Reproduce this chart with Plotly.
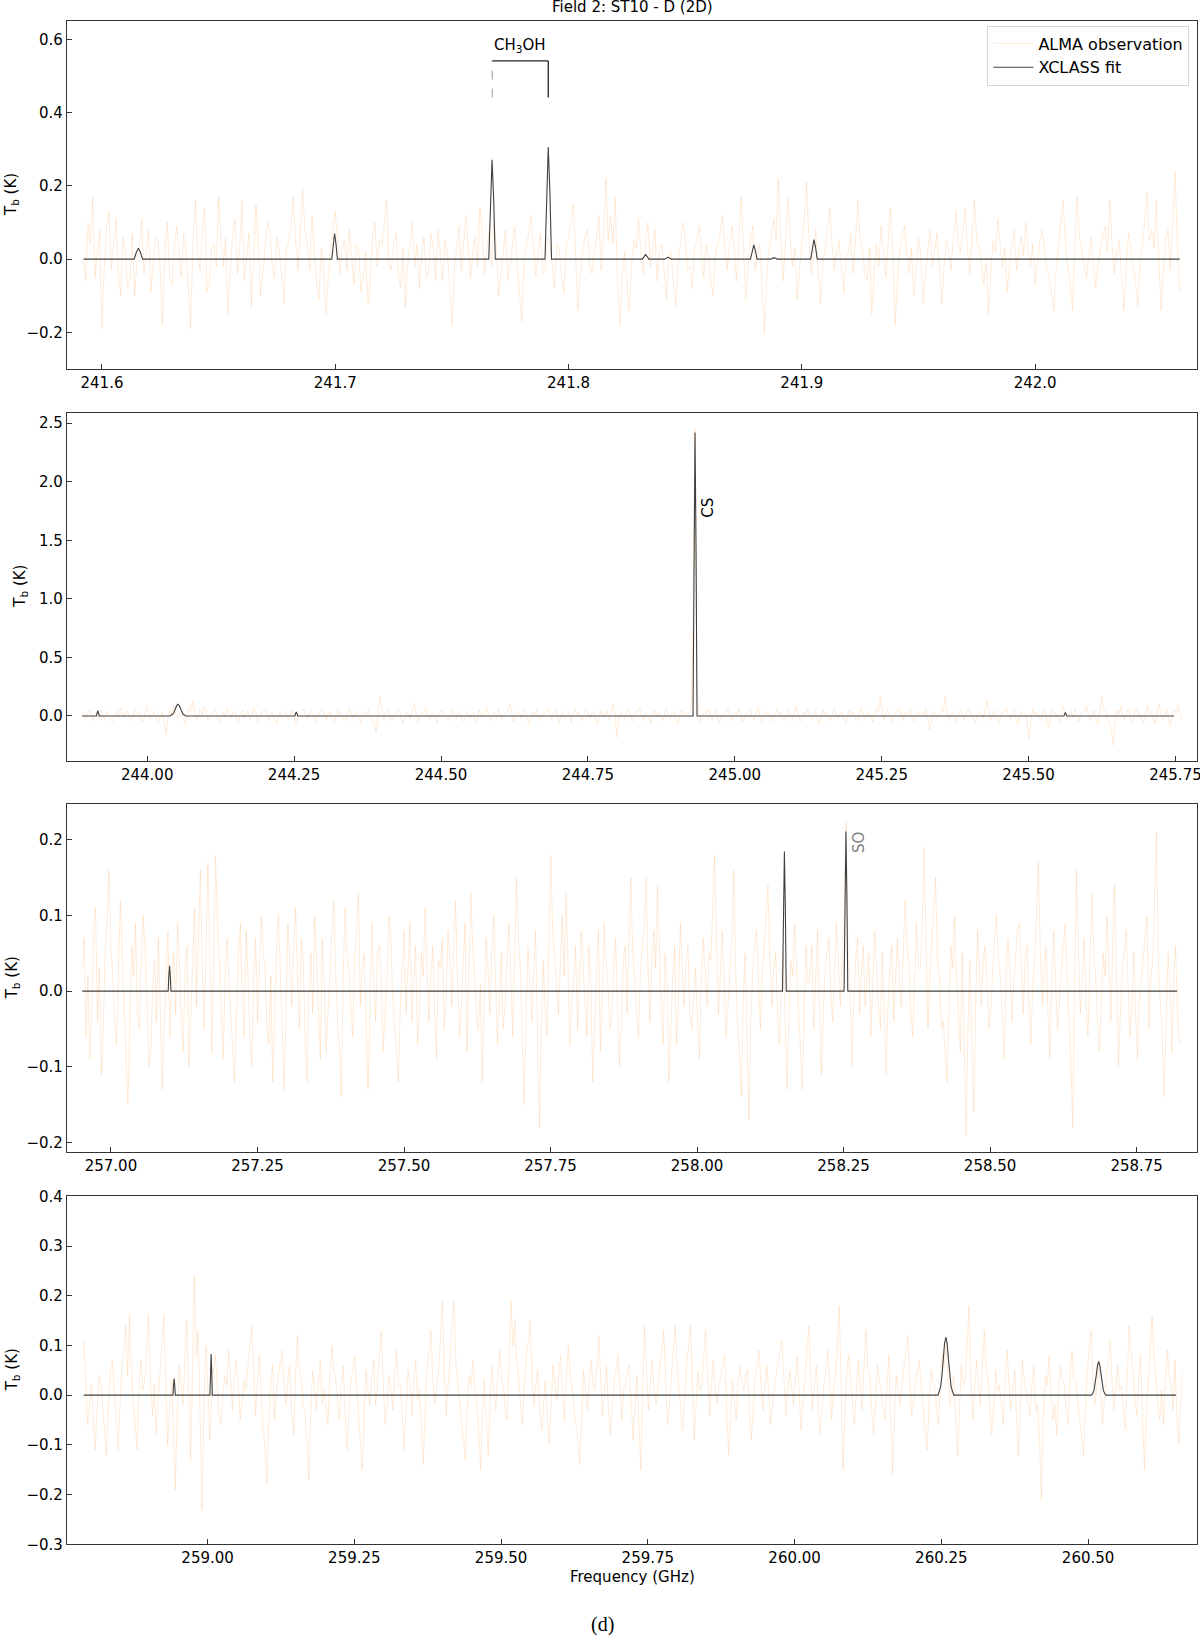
"""XCLASS fit vs ALMA spectra, Field 2: ST10 - D (2D), four spectral windows."""

import plotly.graph_objects as go

# ---- observed spectra: channel start (GHz), channel width (GHz), Tb (K) ----
OBS1_START, OBS1_STEP = 241.592, 0.001
OBS1 = [
    -0.01, -0.06, 0.10, 0.04, 0.17, -0.05, 0.02, 0.08, -0.19, -0.02, 0.09, 0.13, -0.03, 0.05, 0.11, -0.04, -0.10, 0.06, 0.02, -0.08,
    -0.06, 0.07, -0.10, -0.01, 0.03, 0.11, -0.04, 0.02, 0.08, -0.09, -0.02, 0.06, 0.05, -0.03, -0.18, 0.04, 0.10, -0.05, -0.07, 0.03,
    0.09, 0.01, -0.05, 0.07, 0.02, -0.08, -0.19, 0.05, 0.16, 0.02, -0.03, 0.08, 0.14, -0.09, -0.06, 0.03, 0.04, -0.02, 0.17, 0.05,
    -0.02, 0.06, -0.15, -0.04, 0.06, 0.11, -0.04, 0.03, 0.16, -0.06, 0.01, 0.07, -0.13, 0.02, 0.15, 0.04, -0.10, -0.03, 0.03, 0.10,
    0.08, -0.02, -0.05, 0.06, 0.02, -0.04, -0.12, 0.03, 0.05, 0.09, 0.17, 0.05, -0.03, 0.10, 0.19, 0.08, 0.04, -0.03, 0.12, 0.02,
    -0.06, -0.11, 0.03, -0.02, -0.15, -0.05, 0.02, 0.09, 0.13, 0.04, -0.04, 0.03, 0.05, -0.03, 0.08, 0.01, -0.07, 0.04, 0.02, -0.09,
    -0.05, 0.02, -0.12, -0.06, 0.06, 0.10, -0.02, 0.05, 0.04, 0.09, 0.16, -0.01, -0.03, 0.04, 0.07, -0.04, -0.08, 0.03, -0.13, -0.02,
    0.05, 0.10, -0.02, 0.04, -0.08, 0.01, 0.06, -0.05, -0.04, 0.07, 0.03, -0.06, 0.08, 0.02, -0.06, 0.05, 0.02, -0.09, -0.18, -0.03,
    0.04, 0.09, -0.03, 0.05, 0.12, 0.03, -0.05, 0.02, 0.06, -0.02, 0.14, 0.07, -0.04, 0.03, 0.08, -0.02, 0.10, 0.04, -0.10, -0.04,
    0.03, 0.08, -0.06, -0.01, 0.05, 0.09, -0.02, -0.09, -0.17, 0.01, 0.04, 0.07, 0.12, 0.03, -0.05, 0.02, 0.07, -0.04, -0.03, 0.06,
    0.05, -0.02, -0.08, 0.04, 0.03, -0.05, -0.09, 0.03, 0.06, 0.10, 0.15, 0.02, -0.14, -0.05, 0.02, 0.06, 0.08, -0.01, -0.04, 0.02,
    0.06, 0.12, -0.03, 0.07, 0.22, 0.05, 0.12, 0.04, 0.17, -0.06, -0.18, -0.04, 0.02, -0.06, -0.14, -0.02, 0.05, 0.03, 0.11, 0.02,
    -0.04, 0.04, 0.10, -0.02, 0.03, 0.08, -0.06, 0.02, 0.04, -0.04, -0.11, 0.01, 0.02, -0.07, -0.13, -0.01, 0.05, 0.10, 0.06, -0.03,
    -0.02, -0.08, 0.03, 0.05, 0.09, 0.01, -0.05, 0.04, 0.01, -0.06, -0.10, 0.02, 0.04, 0.07, 0.12, 0.03, -0.03, 0.04, 0.09, 0.02,
    -0.06, 0.05, 0.17, 0.03, -0.11, -0.02, 0.06, 0.09, -0.03, 0.01, 0.04, -0.08, -0.20, -0.05, 0.03, 0.07, 0.11, 0.05, 0.22, 0.06,
    -0.06, 0.04, 0.17, 0.06, -0.02, 0.03, -0.11, -0.03, 0.05, 0.10, 0.21, 0.07, -0.04, 0.02, 0.08, -0.03, -0.12, -0.02, 0.03, 0.09,
    0.14, 0.04, -0.03, 0.02, 0.05, -0.03, -0.09, 0.01, 0.02, 0.07, -0.04, 0.05, 0.16, 0.06, 0.02, -0.04, -0.06, 0.03, -0.15, -0.04,
    0.04, -0.02, 0.09, 0.02, -0.05, 0.05, 0.14, 0.01, -0.18, -0.06, 0.03, 0.06, 0.09, 0.02, -0.04, 0.03, -0.10, -0.03, 0.06, 0.01,
    -0.12, -0.04, 0.03, 0.08, -0.02, 0.02, 0.07, -0.03, -0.12, -0.02, 0.05, 0.02, -0.03, 0.06, 0.13, 0.04, 0.02, 0.07, 0.14, 0.03,
    -0.04, 0.06, 0.16, 0.05, 0.03, -0.02, -0.07, -0.01, -0.15, -0.04, 0.05, 0.02, 0.11, 0.04, -0.02, 0.03, -0.09, -0.02, 0.04, 0.08,
    -0.03, 0.02, 0.06, 0.01, 0.10, 0.03, -0.02, 0.04, -0.07, -0.01, 0.05, 0.08, 0.02, -0.03, -0.05, -0.09, -0.14, -0.03, 0.04, 0.09,
    0.16, 0.05, -0.03, -0.06, -0.14, 0.03, 0.17, 0.06, 0.02, -0.02, -0.05, 0.01, 0.06, -0.02, -0.08, -0.01, 0.03, 0.06, 0.09, 0.02,
    0.16, 0.04, -0.04, 0.02, 0.05, -0.06, -0.14, -0.02, 0.07, 0.03, -0.02, -0.06, -0.13, -0.01, 0.04, 0.10, 0.18, 0.05, 0.08, 0.03,
    0.16, 0.02, -0.14, -0.03, 0.05, 0.08, -0.03, 0.10, 0.24, 0.04, -0.09,
]

OBS2_START, OBS2_STEP = 243.889, 0.00325
OBS2 = [
    0.04, 0.01, -0.02, 0.03, 0.05, -0.01, -0.04, 0.02, 0.03, -0.02, 0.06, 0.01, -0.03, 0.04, 0.02, -0.03, -0.05, 0.01, 0.04, -0.02,
    0.07, 0.02, -0.01, 0.04, 0.03, -0.02, -0.04, 0.01, 0.06, 0.03, 0.02, -0.03, -0.05, 0.02, 0.08, 0.03, -0.02, 0.01, 0.04, -0.03,
    -0.06, -0.01, 0.03, -0.05, -0.15, -0.03, 0.05, 0.02, 0.09, 0.03, -0.02, 0.01, 0.04, -0.02, -0.07, 0.01, 0.06, 0.04, 0.13, 0.02,
    -0.03, 0.02, 0.05, 0.01, 0.08, 0.02, -0.04, -0.01, 0.02, 0.04, 0.06, -0.02, -0.05, 0.01, 0.03, -0.01, 0.07, 0.02, -0.02, 0.03,
    0.04, -0.01, -0.06, 0.02, 0.05, -0.02, 0.02, 0.04, -0.03, 0.01, 0.07, 0.02, -0.05, -0.02, 0.03, 0.05, 0.06, -0.01, -0.04, 0.02,
    0.02, -0.03, -0.07, 0.01, 0.04, -0.02, 0.01, 0.03, -0.03, 0.02, 0.05, -0.01, -0.08, -0.02, 0.03, 0.04, 0.06, 0.01, -0.02, 0.03,
    0.04, 0.01, -0.05, -0.01, 0.02, 0.04, 0.06, 0.01, -0.03, 0.02, 0.03, -0.02, -0.06, 0.01, 0.05, 0.02, 0.01, -0.03, -0.04, 0.02,
    0.06, 0.02, -0.02, 0.03, 0.04, -0.02, -0.07, 0.01, 0.03, 0.02, 0.05, -0.01, -0.04, -0.06, -0.14, 0.04, 0.17, 0.05, -0.03, 0.02,
    0.05, 0.01, -0.04, -0.01, 0.02, 0.04, 0.06, 0.01, -0.06, -0.02, 0.03, 0.01, -0.02, 0.04, 0.11, 0.02, -0.05, -0.01, 0.04, 0.02,
    0.07, 0.01, -0.03, 0.02, 0.02, -0.02, -0.06, 0.01, 0.05, 0.03, 0.01, -0.02, -0.04, 0.02, 0.06, 0.01, -0.02, 0.04, 0.03, -0.03,
    -0.05, 0.01, 0.04, -0.02, 0.02, 0.03, -0.06, -0.01, 0.05, 0.02, -0.01, 0.03, 0.07, 0.01, -0.04, 0.02, 0.03, -0.02, 0.06, 0.02,
    -0.03, 0.01, 0.02, 0.05, 0.10, 0.03, -0.05, 0.01, 0.04, 0.02, -0.02, 0.03, 0.06, -0.01, -0.07, -0.02, 0.03, 0.01, 0.05, -0.02,
    -0.04, 0.01, 0.02, 0.04, 0.07, 0.01, -0.03, 0.02, 0.05, -0.01, -0.06, 0.02, 0.04, -0.02, 0.01, 0.03, -0.05, 0.01, 0.06, 0.02,
    0.03, -0.01, -0.04, 0.02, 0.06, 0.01, -0.02, 0.03, 0.04, -0.03, -0.07, 0.01, 0.05, -0.01, 0.02, 0.04, -0.03, 0.02, 0.10, 0.03,
    -0.18, -0.04, 0.04, 0.01, -0.02, 0.03, 0.06, 0.02, -0.05, -0.01, 0.03, 0.04, 0.07, 0.01, -0.04, 0.02, 0.02, -0.02, -0.06, 0.01,
    0.05, -0.01, 0.03, 0.02, -0.04, 0.01, 0.06, 0.02, -0.02, 0.03, 0.04, -0.02, -0.07, 0.01, 0.05, 0.02, 0.01, 0.03, 0.02, 0.04,
    0.90, 2.45, 0.30, 0.02, -0.05, 0.01, 0.04, 0.02, 0.06, 0.01, -0.03, 0.02, 0.05, -0.02, -0.06, 0.01, 0.02, 0.04, 0.07, 0.02,
    -0.04, 0.01, 0.03, 0.02, 0.06, 0.01, -0.05, -0.01, 0.02, 0.03, 0.05, -0.01, -0.03, 0.03, 0.07, 0.01, -0.06, -0.02, 0.04, 0.02,
    0.02, -0.02, -0.05, 0.02, 0.06, 0.01, 0.03, -0.02, -0.04, 0.02, 0.05, 0.01, -0.02, 0.03, 0.08, 0.02, -0.05, -0.01, 0.03, 0.01,
    0.06, 0.01, -0.03, 0.02, 0.04, -0.02, -0.07, -0.01, 0.05, 0.02, 0.02, -0.02, -0.04, 0.02, 0.06, 0.01, -0.02, 0.02, 0.03, -0.03,
    -0.06, 0.01, 0.05, 0.02, 0.03, -0.02, -0.04, 0.03, 0.07, 0.01, -0.02, 0.02, 0.04, -0.01, -0.05, 0.02, 0.06, 0.04, 0.16, 0.03,
    -0.03, 0.02, 0.05, -0.01, -0.06, 0.01, 0.03, 0.04, 0.07, 0.01, -0.04, 0.02, 0.02, 0.03, 0.06, -0.02, -0.05, 0.01, 0.04, 0.02,
    0.03, 0.01, 0.06, -0.03, -0.12, -0.02, 0.04, 0.01, -0.02, 0.02, 0.05, 0.04, 0.17, 0.03, -0.04, 0.01, 0.03, -0.02, -0.06, 0.01,
    0.05, 0.02, -0.03, 0.01, 0.06, 0.02, 0.02, -0.02, -0.05, 0.01, 0.04, 0.02, -0.02, 0.05, 0.14, 0.03, -0.04, 0.01, 0.05, -0.02,
    -0.06, -0.01, 0.03, 0.04, 0.07, 0.01, -0.03, 0.02, 0.05, -0.02, -0.07, 0.01, 0.04, -0.01, 0.02, -0.06, -0.19, -0.03, 0.06, 0.02,
    0.03, 0.01, -0.04, 0.02, 0.05, -0.03, -0.10, -0.02, 0.06, 0.02, 0.02, -0.02, -0.05, 0.03, 0.08, 0.01, -0.03, 0.02, 0.04, -0.02,
    0.06, 0.01, -0.05, 0.02, 0.03, 0.04, 0.08, 0.01, -0.04, 0.02, 0.05, -0.02, -0.07, 0.05, 0.17, 0.06, 0.04, -0.02, -0.06, -0.12,
    -0.25, -0.04, 0.05, 0.02, 0.08, 0.01, -0.03, 0.03, 0.06, -0.02, -0.05, 0.02, 0.07, 0.01, 0.02, -0.03, -0.06, 0.03, 0.09, 0.02,
    0.04, -0.02, -0.07, 0.03, 0.10, 0.02, -0.03, 0.01, 0.06, -0.03, -0.08, 0.01, 0.05, 0.03, 0.09, 0.02, -0.04,
]

OBS3_START, OBS3_STEP = 256.951, 0.00325
OBS3 = [
    0.03, 0.07, -0.06, 0.02, -0.09, -0.03, 0.08, 0.11, -0.04, 0.03, -0.11, -0.05, 0.05, 0.09, 0.16, 0.06, 0.02, -0.04, -0.07, 0.04,
    0.12, 0.05, -0.03, -0.09, -0.15, -0.02, 0.06, 0.02, 0.09, -0.03, -0.05, 0.04, 0.10, 0.06, -0.02, -0.10, -0.08, 0.01, 0.04, -0.04,
    0.07, -0.02, -0.13, -0.05, 0.02, 0.08, -0.06, 0.01, 0.05, -0.03, 0.09, 0.04, -0.04, -0.08, 0.03, 0.06, -0.10, -0.02, 0.06, 0.11,
    -0.02, 0.08, 0.16, 0.03, -0.05, 0.06, 0.17, 0.04, -0.08, 0.05, 0.18, 0.09, 0.04, -0.03, -0.09, 0.02, 0.07, 0.01, -0.03, -0.07,
    -0.12, -0.03, 0.05, 0.09, -0.01, -0.06, 0.08, 0.02, -0.06, -0.10, 0.02, 0.07, -0.04, 0.03, 0.10, 0.05, 0.03, -0.05, -0.07, 0.02,
    -0.12, -0.04, 0.06, 0.10, 0.01, -0.05, -0.13, -0.02, 0.09, 0.03, -0.02, 0.06, 0.11, 0.02, -0.05, 0.07, 0.04, -0.06, -0.12, -0.01,
    0.05, -0.03, 0.10, 0.04, -0.03, -0.09, 0.07, 0.01, -0.08, -0.02, 0.02, 0.07, 0.12, 0.03, -0.04, -0.07, -0.14, 0.02, 0.11, 0.05,
    0.03, -0.02, -0.06, 0.04, 0.08, 0.13, -0.02, 0.03, 0.05, -0.06, -0.13, -0.04, 0.09, 0.02, -0.04, 0.05, 0.06, 0.01, -0.08, -0.03,
    0.02, 0.10, 0.07, -0.01, -0.05, -0.08, -0.12, -0.02, 0.04, 0.08, -0.03, 0.04, 0.09, -0.04, 0.01, 0.06, -0.07, -0.03, 0.05, 0.02,
    0.11, 0.03, -0.04, 0.02, 0.06, -0.03, -0.09, 0.04, 0.03, 0.07, -0.05, -0.01, 0.08, 0.04, -0.02, 0.06, 0.12, 0.02, -0.06, -0.02,
    0.04, 0.09, -0.08, 0.05, 0.13, 0.06, 0.02, -0.04, -0.05, 0.01, -0.12, -0.02, 0.07, 0.03, -0.03, 0.05, 0.10, 0.01, -0.07, -0.02,
    0.05, -0.05, -0.02, 0.04, 0.09, 0.02, -0.06, 0.05, 0.15, 0.07, 0.03, -0.07, -0.15, -0.03, 0.06, 0.01, -0.04, 0.03, 0.08, -0.06,
    -0.18, -0.05, 0.04, -0.02, -0.06, 0.07, 0.18, 0.08, 0.05, 0.01, -0.03, 0.04, 0.10, 0.02, 0.13, 0.04, -0.07, -0.02, 0.02, 0.06,
    -0.05, 0.02, 0.08, 0.03, -0.02, -0.06, 0.06, 0.01, -0.12, -0.04, 0.03, 0.08, -0.08, -0.01, 0.09, 0.04, 0.01, -0.05, -0.04, 0.03,
    0.07, -0.02, -0.10, -0.04, 0.04, 0.06, -0.03, 0.08, 0.15, 0.05, 0.02, -0.03, -0.06, 0.02, 0.05, 0.09, 0.15, 0.03, -0.04, 0.04,
    0.08, 0.03, 0.14, 0.05, -0.03, -0.07, 0.05, 0.01, -0.12, -0.05, 0.02, 0.06, -0.07, -0.02, 0.09, 0.03, -0.02, 0.04, 0.06, -0.03,
    -0.05, -0.01, 0.03, -0.04, -0.09, 0.02, 0.07, 0.03, -0.02, 0.05, 0.04, 0.11, 0.18, 0.06, -0.03, 0.02, 0.08, 0.01, -0.06, -0.02,
    0.02, 0.07, 0.16, 0.03, -0.04, -0.08, -0.14, -0.02, 0.05, -0.06, -0.17, -0.04, 0.03, 0.06, 0.08, 0.01, -0.05, 0.02, 0.06, 0.10,
    0.14, 0.04, -0.02, 0.03, 0.05, -0.03, -0.07, 0.01, 0.05, -0.04, -0.13, -0.03, 0.04, 0.02, 0.09, 0.03, -0.03, -0.08, -0.13, -0.02,
    0.06, 0.01, 0.02, 0.06, -0.05, 0.01, 0.08, -0.02, -0.11, -0.03, 0.03, 0.05, 0.07, -0.01, -0.04, 0.03, 0.09, 0.04, -0.02, 0.05,
    0.10, 0.225, 0.05, 0.03, -0.10, -0.02, 0.04, 0.07, -0.03, 0.02, 0.06, -0.02, 0.01, 0.05, -0.06, 0.02, 0.08, 0.03, -0.02, -0.05,
    0.05, -0.03, -0.11, -0.02, 0.03, 0.06, -0.04, 0.02, 0.07, 0.01, -0.02, 0.05, 0.12, 0.06, 0.04, -0.03, -0.06, 0.02, 0.09, 0.03,
    0.03, 0.09, 0.19, 0.05, -0.05, 0.02, 0.07, 0.11, 0.15, 0.04, 0.02, -0.05, -0.04, -0.08, -0.12, -0.02, 0.06, 0.03, 0.10, 0.02,
    -0.03, -0.08, 0.05, -0.06, -0.19, -0.05, 0.04, -0.07, -0.16, -0.02, 0.08, 0.03, -0.02, 0.04, 0.06, 0.01, -0.05, -0.02, 0.03, 0.07,
    0.10, 0.04, 0.02, -0.04, -0.09, 0.02, 0.07, 0.03, -0.04, 0.01, 0.05, 0.08, 0.09, 0.02, -0.03, 0.04, 0.06, -0.02, -0.07, 0.01,
    0.04, 0.10, 0.17, 0.05, -0.02, 0.03, 0.06, -0.03, -0.09, 0.02, 0.08, 0.01, -0.05, -0.01, 0.03, 0.06, 0.09, 0.02, -0.04, -0.09,
    -0.18, 0.02, 0.16, 0.05, -0.03, 0.02, 0.07, -0.02, -0.06, 0.04, 0.13, 0.05, 0.02, -0.04, -0.08, -0.01, 0.05, 0.02, 0.10, 0.03,
    -0.04, 0.06, 0.14, 0.02, -0.10, -0.03, 0.03, 0.05, 0.08, 0.01, -0.06, -0.02, 0.05, -0.03, -0.09, -0.01, 0.02, 0.04, 0.07, 0.10,
    -0.05, 0.02, 0.04, 0.12, 0.21, 0.03, -0.02, -0.06, -0.14, -0.03, 0.05, 0.01, -0.08, 0.02, 0.06, -0.03, -0.07,
]

OBS4_START, OBS4_STEP = 258.789, 0.00325
OBS4 = [
    0.11, 0.03, -0.06, -0.02, 0.02, -0.05, -0.11, -0.03, 0.04, 0.02, -0.03, -0.07, -0.12, -0.02, 0.05, 0.07, 0.01, -0.04, -0.11, -0.02,
    0.06, 0.09, 0.14, 0.04, 0.16, 0.05, -0.02, -0.06, -0.11, 0.02, 0.07, 0.01, 0.03, 0.09, 0.16, 0.03, -0.04, 0.02, -0.08, -0.01,
    0.05, 0.10, 0.16, 0.02, -0.10, -0.03, 0.03, -0.06, -0.19, -0.04, 0.06, 0.02, -0.02, 0.07, 0.15, 0.01, -0.13, 0.05, 0.24, 0.08,
    0.13, -0.05, -0.23, -0.02, 0.10, 0.03, -0.09, -0.02, 0.05, 0.08, 0.02, -0.04, -0.06, 0.01, 0.04, 0.02, 0.09, 0.03, -0.03, 0.04,
    0.07, 0.02, -0.05, -0.01, 0.03, 0.01, 0.06, 0.10, 0.14, 0.03, -0.04, 0.02, 0.08, 0.01, -0.07, -0.10, -0.18, -0.05, 0.02, 0.06,
    -0.05, 0.01, 0.04, 0.07, 0.09, 0.02, -0.02, 0.03, 0.06, -0.03, -0.08, 0.04, 0.12, 0.05, 0.03, -0.02, -0.04, -0.09, -0.17, -0.04,
    0.05, 0.02, -0.03, 0.03, 0.07, -0.02, 0.01, -0.03, -0.06, 0.04, 0.10, 0.05, 0.04, -0.01, -0.05, 0.02, 0.06, -0.04, -0.11, -0.03,
    0.03, 0.05, 0.08, 0.02, -0.04, -0.08, -0.15, -0.03, 0.05, 0.01, -0.02, 0.04, 0.07, -0.02, 0.02, 0.08, 0.13, 0.03, -0.06, -0.02,
    0.04, 0.01, -0.03, 0.04, 0.09, 0.02, 0.02, -0.05, -0.11, -0.02, 0.05, 0.02, -0.04, 0.03, 0.07, -0.01, 0.01, -0.06, -0.14, -0.03,
    0.06, 0.09, 0.13, 0.03, -0.02, 0.02, 0.05, 0.12, 0.19, 0.04, -0.04, 0.02, 0.08, 0.13, 0.19, 0.07, 0.03, -0.02, -0.06, -0.09,
    -0.13, -0.03, 0.04, 0.02, 0.07, 0.01, -0.02, -0.07, -0.15, -0.04, 0.03, -0.05, -0.12, -0.02, 0.06, 0.01, -0.03, 0.04, 0.09, 0.03,
    0.02, -0.03, -0.05, 0.08, 0.19, 0.10, 0.15, 0.06, 0.04, -0.02, -0.06, 0.02, 0.08, 0.11, 0.15, 0.04, -0.02, 0.02, 0.05, -0.03,
    -0.07, -0.02, 0.03, -0.04, -0.10, -0.02, 0.06, 0.02, -0.01, 0.04, 0.08, 0.01, -0.05, 0.03, 0.10, 0.04, 0.02, -0.03, -0.06, -0.09,
    -0.14, -0.04, 0.05, 0.01, -0.03, 0.03, 0.07, 0.02, 0.01, 0.06, 0.12, 0.03, -0.04, 0.01, 0.06, -0.02, -0.08, -0.03, 0.03, 0.05,
    0.08, 0.02, -0.05, 0.01, 0.02, 0.05, 0.06, -0.02, -0.09, -0.02, 0.04, -0.06, -0.15, 0.02, 0.14, 0.05, -0.03, 0.02, 0.07, 0.01,
    -0.02, 0.02, 0.05, 0.09, 0.13, 0.03, -0.06, -0.02, 0.04, 0.08, 0.14, 0.06, 0.01, -0.03, -0.07, 0.01, 0.06, 0.10, 0.14, 0.03,
    -0.09, -0.02, 0.05, 0.01, 0.02, 0.08, 0.13, 0.04, -0.04, 0.02, 0.07, 0.01, -0.02, 0.02, 0.04, 0.06, 0.08, -0.03, -0.12, -0.04,
    0.03, -0.01, -0.05, 0.02, 0.06, 0.03, 0.01, 0.04, 0.05, -0.04, -0.09, -0.02, 0.04, 0.06, 0.09, 0.02, -0.03, 0.02, 0.06, 0.01,
    -0.06, -0.02, 0.02, 0.04, 0.07, 0.09, 0.11, 0.03, -0.04, 0.01, 0.05, 0.02, -0.02, 0.03, 0.08, 0.01, -0.07, -0.02, 0.03, 0.08,
    0.14, 0.04, -0.03, 0.02, 0.06, -0.02, -0.08, -0.03, 0.02, 0.05, 0.09, 0.03, -0.05, 0.01, 0.04, 0.10, 0.18, 0.02, -0.15, -0.04,
    0.05, 0.08, 0.02, -0.02, -0.06, 0.01, 0.07, 0.02, -0.03, 0.06, 0.13, 0.05, 0.04, -0.03, -0.08, -0.02, 0.06, 0.03, 0.01, -0.03,
    -0.05, 0.02, 0.08, -0.05, -0.16, -0.04, 0.04, 0.01, -0.02, 0.03, 0.06, 0.09, 0.12, 0.02, -0.04, -0.01, 0.03, 0.05, 0.07, 0.02,
    -0.03, -0.07, -0.11, -0.02, 0.05, 0.03, 0.02, -0.03, -0.06, 0.02, 0.08, 0.06, 0.10, 0.04, -0.02, 0.01, 0.04, -0.05, -0.12, -0.03,
    0.06, 0.02, 0.03, 0.10, 0.18, 0.04, -0.05, 0.01, 0.07, 0.02, -0.02, 0.06, 0.13, 0.05, 0.04, -0.03, -0.08, -0.02, 0.05, 0.01,
    0.02, -0.02, -0.06, 0.03, 0.09, 0.02, -0.03, 0.01, 0.05, -0.05, -0.12, -0.02, 0.07, 0.03, 0.01, -0.02, -0.04, 0.02, 0.06, -0.03,
    -0.02, -0.09, -0.21, -0.04, 0.04, 0.02, 0.08, 0.01, -0.05, -0.02, -0.08, 0.02, 0.06, 0.03, 0.02, -0.03, -0.06, 0.04, 0.09, 0.03,
    0.03, -0.01, -0.04, -0.08, -0.12, -0.02, 0.05, 0.09, 0.13, 0.04, -0.02, 0.02, 0.07, 0.01, -0.06, -0.01, 0.04, 0.07, 0.11, 0.03,
    -0.03, 0.02, 0.06, 0.01, 0.02, -0.03, -0.07, 0.04, 0.14, 0.08, 0.05, -0.01, -0.04, 0.03, 0.08, -0.05, -0.15, -0.04, 0.03, 0.09,
    0.16, 0.07, 0.04, -0.02, -0.05, 0.01, -0.06, 0.03, 0.09, 0.04, 0.02, -0.03, 0.07, -0.04, -0.10, -0.02, 0.05,
]

# ---- XCLASS model: vertices of the fitted profile (GHz, K) ----
FIT1_F = [
    241.592,
    241.6138, 241.6147, 241.6156, 241.6165, 241.6174,
    241.6985, 241.6991, 241.6997, 241.7003, 241.7009,
    241.7658, 241.7665, 241.7672, 241.7679, 241.7686,
    241.7899, 241.7906, 241.7913, 241.7920, 241.7927,
    241.8316, 241.8323, 241.8330, 241.8337, 241.8344,
    241.8412, 241.8419, 241.8426, 241.8433, 241.8440,
    241.8780, 241.8787, 241.8794, 241.8801, 241.8808,
    241.8867, 241.8874, 241.8881, 241.8888, 241.8895,
    241.9038, 241.9045, 241.9052, 241.9059, 241.9066,
    242.062,
]
FIT1_T = [
    0,
    0, 0.018, 0.030, 0.018, 0,
    0, 0.042, 0.070, 0.042, 0,
    0, 0.163, 0.271, 0.163, 0,
    0, 0.184, 0.306, 0.184, 0,
    0, 0.007, 0.012, 0.007, 0,
    0, 0.003, 0.005, 0.003, 0,
    0, 0.023, 0.039, 0.023, 0,
    0, 0.002, 0.004, 0.002, 0,
    0, 0.032, 0.053, 0.032, 0,
    0,
]

FIT2_F = [
    243.889,
    243.9136, 243.9148, 243.9160, 243.9172, 243.9184,
    244.0388, 244.0433, 244.0456, 244.0478, 244.0501, 244.0523,
    244.0546, 244.0568, 244.0591, 244.0613, 244.0658,
    244.2513, 244.2525, 244.2537, 244.2549, 244.2561,
    244.9289, 244.9306, 244.9323, 244.9340, 244.9357,
    245.5601, 245.5613, 245.5625, 245.5637, 245.5649,
    245.7475,
]
FIT2_T = [
    0,
    0, 0.027, 0.045, 0.027, 0,
    0, 0.014, 0.033, 0.061, 0.088, 0.100,
    0.088, 0.061, 0.033, 0.014, 0,
    0, 0.021, 0.035, 0.021, 0,
    0, 1.45, 2.42, 1.45, 0,
    0, 0.018, 0.030, 0.018, 0,
    0,
]

FIT3_F = [
    256.951,
    257.0976, 257.0988, 257.1000, 257.1012, 257.1024,
    258.1458, 258.1474, 258.1490, 258.1506, 258.1522,
    258.2508, 258.2524, 258.2540, 258.2556, 258.2572,
    258.819,
]
FIT3_T = [
    0,
    0, 0.020, 0.0334, 0.020, 0,
    0, 0.111, 0.1845, 0.111, 0,
    0, 0.127, 0.211, 0.127, 0,
    0,
]

FIT4_F = [
    258.789,
    258.941, 258.942, 258.943, 258.944, 258.945,
    259.004, 259.005, 259.006, 259.007, 259.008,
    260.2442, 260.2487, 260.2509, 260.2532, 260.2554, 260.2577,
    260.2599, 260.2622, 260.2644, 260.2667, 260.2712,
    260.506, 260.510, 260.512, 260.514, 260.516, 260.518,
    260.520, 260.522, 260.524, 260.526, 260.530,
    260.650,
]
FIT4_T = [
    0,
    0, 0.020, 0.0333, 0.020, 0,
    0, 0.050, 0.0827, 0.050, 0,
    0, 0.016, 0.038, 0.071, 0.103, 0.117,
    0.103, 0.071, 0.038, 0.016, 0,
    0, 0.009, 0.022, 0.041, 0.060, 0.068,
    0.060, 0.041, 0.022, 0.009, 0,
    0,
]

# ---- axes ----
X_RANGES = [[241.585, 242.0694], [243.8635, 245.7866], [256.925, 258.853], [258.7605, 260.6855]]
Y_RANGES = [[-0.3, 0.65], [-0.382, 2.59], [-0.213, 0.247], [-0.3, 0.4]]
X_TICKS = [
    [241.6, 241.7, 241.8, 241.9, 242.0],
    [244.00, 244.25, 244.50, 244.75, 245.00, 245.25, 245.50, 245.75],
    [257.00, 257.25, 257.50, 257.75, 258.00, 258.25, 258.50, 258.75],
    [259.00, 259.25, 259.50, 259.75, 260.00, 260.25, 260.50],
]
X_DECIMALS = [1, 2, 2, 2]
Y_TICKS = [
    [-0.2, 0.0, 0.2, 0.4, 0.6],
    [0.0, 0.5, 1.0, 1.5, 2.0, 2.5],
    [-0.2, -0.1, 0.0, 0.1, 0.2],
    [-0.3, -0.2, -0.1, 0.0, 0.1, 0.2, 0.3, 0.4],
]

# line identifications
CH3OH_LINES = [241.7673, 241.7913]
CS_LABEL = (244.953, 1.78)
SO_LABEL = (258.276, 0.197)

W, H = 1200, 1635
ML, MR = 67, 3
FONT = "DejaVu Sans"
OBS_COLOR = "rgba(255,127,14,0.2)"
FIT_COLOR = "#404040"
AXIS_COLOR = "#333333"

# panel boxes in pixels from top (top, bottom)
BOXES = [(21, 369), (412.7, 760.7), (804.3, 1152.3), (1196.3, 1544.3)]
YLABEL_PX = [12, 21, 12, 12]


def px_x(px):
    return (px - ML) / (W - ML - MR)


def px_y(py):
    return 1 - py / H


def fmt(v, d):
    s = f"{v:.{d}f}"
    return s.replace("-", "\u2212")


panels = [
    (OBS1_START, OBS1_STEP, OBS1, FIT1_F, FIT1_T),
    (OBS2_START, OBS2_STEP, OBS2, FIT2_F, FIT2_T),
    (OBS3_START, OBS3_STEP, OBS3, FIT3_F, FIT3_T),
    (OBS4_START, OBS4_STEP, OBS4, FIT4_F, FIT4_T),
]

fig = go.Figure()
layout = {}
annotations = []

for k, (f0, step, obs, fit_f, fit_t) in enumerate(panels):
    n = k + 1
    suffix = "" if n == 1 else str(n)
    freqs = [f0 + step * i for i in range(len(obs))]
    fig.add_trace(go.Scatter(
        x=freqs, y=obs, mode="lines", name="ALMA observation",
        line=dict(color=OBS_COLOR, width=0.8),
        xaxis="x" + suffix, yaxis="y" + suffix, showlegend=(n == 1),
    ))
    fig.add_trace(go.Scatter(
        x=fit_f, y=fit_t, mode="lines", name="XCLASS fit",
        line=dict(color=FIT_COLOR, width=1.1),
        xaxis="x" + suffix, yaxis="y" + suffix, showlegend=(n == 1),
    ))

    top, bot = BOXES[k]
    common = dict(
        showline=True, linecolor=AXIS_COLOR, linewidth=1.2, mirror=True,
        ticks="inside", ticklen=5, tickwidth=1, tickcolor=AXIS_COLOR,
        showgrid=False, zeroline=False, automargin=False,
        ticklabeloverflow="allow",
        tickfont=dict(family=FONT, size=15, color="black"),
    )
    layout["xaxis" + suffix] = dict(
        common, domain=[0, 1], range=X_RANGES[k], anchor="y" + suffix,
        tickvals=X_TICKS[k],
        ticktext=[fmt(v, X_DECIMALS[k]) for v in X_TICKS[k]],
    )
    layout["yaxis" + suffix] = dict(
        common, domain=[px_y(bot), px_y(top)], range=Y_RANGES[k],
        anchor="x" + suffix,
        tickvals=Y_TICKS[k], ticktext=[fmt(v, 1) for v in Y_TICKS[k]],
    )
    annotations.append(dict(
        text="T<sub>b</sub> (K)", xref="paper", yref="paper",
        x=px_x(YLABEL_PX[k]), y=px_y((top + bot) / 2),
        textangle=-90, showarrow=False, xanchor="center", yanchor="middle",
        font=dict(family=FONT, size=15, color="black"),
    ))

# line labels
annotations += [
    dict(text="CH<sub>3</sub>OH", x=sum(CH3OH_LINES) / 2, y=0.584,
         xref="x", yref="y", showarrow=False,
         font=dict(family=FONT, size=15, color="black")),
    dict(text="CS", x=CS_LABEL[0], y=CS_LABEL[1], xref="x2", yref="y2",
         textangle=-90, showarrow=False,
         font=dict(family=FONT, size=15, color="black")),
    dict(text="SO", x=SO_LABEL[0], y=SO_LABEL[1], xref="x3", yref="y3",
         textangle=-90, showarrow=False,
         font=dict(family=FONT, size=15, color="#808080")),
    dict(text="Field 2: ST10 - D (2D)", xref="paper", yref="paper",
         x=0.5, y=px_y(7), showarrow=False, yanchor="middle",
         font=dict(family=FONT, size=15, color="black")),
    dict(text="Frequency (GHz)", xref="paper", yref="paper",
         x=0.5, y=px_y(1577), showarrow=False, yanchor="middle",
         font=dict(family=FONT, size=15, color="black")),
    dict(text="(d)", xref="paper", yref="paper",
         x=px_x(602), y=px_y(1624), showarrow=False, yanchor="middle",
         font=dict(family="Liberation Serif", size=20, color="black")),
]

shapes = [
    dict(type="line", xref="x", yref="y", x0=CH3OH_LINES[0], x1=CH3OH_LINES[0],
         y0=0.441, y1=0.541, line=dict(color="#999999", width=1, dash="dash")),
    dict(type="line", xref="x", yref="y", x0=CH3OH_LINES[0], x1=CH3OH_LINES[1],
         y0=0.541, y1=0.541, line=dict(color="#222222", width=1.3)),
    dict(type="line", xref="x", yref="y", x0=CH3OH_LINES[1], x1=CH3OH_LINES[1],
         y0=0.541, y1=0.441, line=dict(color="#222222", width=1.3)),
]

fig.update_layout(
    **layout,
    template="none",
    width=W, height=H,
    margin=dict(l=ML, r=MR, t=0, b=0, autoexpand=False),
    paper_bgcolor="white", plot_bgcolor="white",
    annotations=annotations, shapes=shapes,
    legend=dict(
        x=px_x(1189.4), y=px_y(25.5), xanchor="right", yanchor="top",
        itemwidth=40,
        bgcolor="rgba(255,255,255,0.85)", bordercolor="#d6d6d6", borderwidth=1,
        font=dict(family=FONT, size=16, color="black"),
    ),
)

# page body without the default 8px margin so the figure fills the window
fig.write_html(
    "out.html",
    config={"displayModeBar": False},
    post_script="document.body.style.margin='0';document.body.style.overflow='hidden';",
)
